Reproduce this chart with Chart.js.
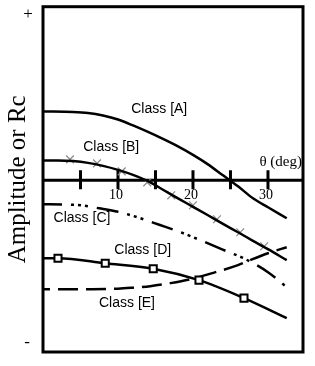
<!DOCTYPE html>
<html>
<head>
<meta charset="utf-8">
<script src="https://cdn.jsdelivr.net/npm/chart.js@4"></script>
<style>
  html, body { margin: 0; padding: 0; background: #fff; }
  #wrap { width: 315px; height: 366px; position: relative; }
</style>
</head>
<body>
<div id="wrap"><canvas id="chart"></canvas></div>
<script>
// Amplitude / Rc vs theta - sketch of five classes

// theta (deg) and amplitude values
const classAx = [0, 4, 6, 8, 10, 12, 14, 16, 18, 20, 22, 24, 26, 28, 30, 32.5];
const classAy = [6.9, 6.85, 6.75, 6.5, 6.1, 5.5, 4.85, 4.15, 3.4, 2.55, 1.6, 0.5, -0.6, -1.8, -2.7, -3.8];

const classBx = [0, 2, 4, 6, 8, 10, 12, 14, 16, 18, 20, 22, 24, 26, 28, 30, 32.5];
const classBy = [2.0, 2.0, 1.93, 1.75, 1.45, 1.05, 0.55, -0.08, -0.94, -1.8, -2.65, -3.5, -4.36, -5.2, -6.06, -6.9, -8.0];

const crossX = [3.6, 7.2, 10.5, 13.9, 17.1, 20, 23.2, 26.3, 29.5];
const crossY = [2.1, 1.7, 0.9, -0.2, -1.5, -2.5, -3.9, -5.2, -6.6];

const classCx = [0, 3, 5, 7.5, 10, 13, 15.5, 18, 21, 23.5, 27, 30, 32.5];
const classCy = [-2.4, -2.42, -2.5, -2.8, -3.15, -3.8, -4.45, -5.1, -6.0, -6.8, -7.9, -9.2, -10.7];

const classDx = [0, 2, 8.3, 14.7, 20.8, 26.8, 32.5];
const classDy = [-7.8, -7.8, -8.3, -8.85, -10.0, -11.8, -13.8];
const classDmarks = [0, 5, 5, 5, 5, 5, 0];

const classEx = [0, 5, 10, 12, 14.3, 17, 20, 23, 26, 27.6, 30, 32.5];
const classEy = [-10.9, -10.9, -10.85, -10.75, -10.6, -10.3, -9.85, -9.2, -8.5, -8.0, -7.3, -6.7];

const thetaTicks = [5, 10, 15, 20, 25, 30];
const thetaTickLabels = ['', '10', '', '20', '', '30'];

const classLabels = ['Class [A]', 'Class [B]', 'Class [C]', 'Class [D]', 'Class [E]'];
const classLabelX = [15.5, 9.1, 5.2, 13.3, 11.2];
const classLabelY = [7.1, 3.3, -3.8, -7.0, -12.3];

const pts = (xs, ys) => xs.map((x, i) => ({ x, y: ys[i] }));

// frame, theta axis, ticks and all the text
const sketchPlugin = {
    id: 'sketch',
    beforeDatasetsDraw(chart) {
        const { ctx, chartArea: a, scales: { x, y } } = chart;
        const y0 = y.getPixelForValue(0);
        ctx.save();
        ctx.strokeStyle = '#000';
        ctx.lineWidth = 3;
        ctx.strokeRect(a.left, a.top, a.right - a.left, a.bottom - a.top);

        ctx.beginPath();
        ctx.moveTo(a.left, y0);
        ctx.lineTo(a.right, y0);
        thetaTicks.forEach(t => {
            const px = x.getPixelForValue(t);
            ctx.moveTo(px, y0 - 10);
            ctx.lineTo(px, y0 + 9);
        });
        ctx.stroke();
        ctx.restore();
    },
    afterDatasetsDraw(chart) {
        const { ctx, chartArea: a, scales: { x, y } } = chart;
        const y0 = y.getPixelForValue(0);
        ctx.save();
        ctx.fillStyle = '#000';
        ctx.textAlign = 'center';
        ctx.textBaseline = 'middle';

        ctx.font = '14px "Liberation Serif", "Times New Roman", serif';
        thetaTicks.forEach((t, i) => {
            if (thetaTickLabels[i]) ctx.fillText(thetaTickLabels[i], x.getPixelForValue(t) - 2, y0 + 15);
        });
        ctx.font = '15px "Liberation Serif", "Times New Roman", serif';
        ctx.fillText('\u03b8 (deg)', x.getPixelForValue(31.7), y0 - 18);

        ctx.font = '14px "Liberation Sans", Arial, sans-serif';
        classLabels.forEach((txt, i) => {
            ctx.fillText(txt, x.getPixelForValue(classLabelX[i]), y.getPixelForValue(classLabelY[i]));
        });

        ctx.font = '17px "Liberation Serif", "Times New Roman", serif';
        ctx.fillText('+', a.left - 15, a.top + 8);
        ctx.fillText('-', a.left - 16, a.bottom - 9);

        ctx.font = '25px "Liberation Serif", "Times New Roman", serif';
        ctx.translate(a.left - 25, (a.top + a.bottom) / 2);
        ctx.rotate(-Math.PI / 2);
        ctx.fillText('Amplitude or Rc', 0, 0);
        ctx.restore();
    }
};

const lineBase = {
    showLine: true,
    borderColor: '#000',
    borderWidth: 2.5,
    pointRadius: 0,
    cubicInterpolationMode: 'monotone',
    fill: false
};

new Chart(document.getElementById('chart'), {
    type: 'scatter',
    data: {
        datasets: [
            { ...lineBase, label: 'Class [A]', data: pts(classAx, classAy) },
            { ...lineBase, label: 'Class [B]', data: pts(classBx, classBy) },
            {
                label: 'B marks', data: pts(crossX, crossY), showLine: false,
                pointStyle: 'crossRot', pointRadius: 5.5, borderWidth: 1.2,
                borderColor: '#8a8a8a', backgroundColor: '#8a8a8a'
            },
            {
                ...lineBase, label: 'Class [C]', data: pts(classCx, classCy),
                borderDash: [22, 9, 3, 4, 3, 4, 3, 9], borderDashOffset: 3, borderCapStyle: 'butt'
            },
            {
                ...lineBase, label: 'Class [D]', data: pts(classDx, classDy),
                pointRadius: classDmarks, pointStyle: 'rect', pointBorderWidth: 2,
                pointBackgroundColor: '#fff', pointBorderColor: '#000'
            },
            {
                ...lineBase, label: 'Class [E]', data: pts(classEx, classEy),
                borderDash: [20, 8], borderDashOffset: 13, borderCapStyle: 'butt'
            }
        ]
    },
    options: {
        responsive: true,
        maintainAspectRatio: false,
        animation: false,
        layout: { padding: { left: 43, top: 6, right: 12, bottom: 14 } },
        plugins: { legend: { display: false }, tooltip: { enabled: false } },
        scales: {
            x: { type: 'linear', display: false, min: 0, max: 34.67 },
            y: { type: 'linear', display: false, min: -17.2, max: 17.4 }
        }
    },
    plugins: [sketchPlugin]
});
</script>
</body>
</html>
